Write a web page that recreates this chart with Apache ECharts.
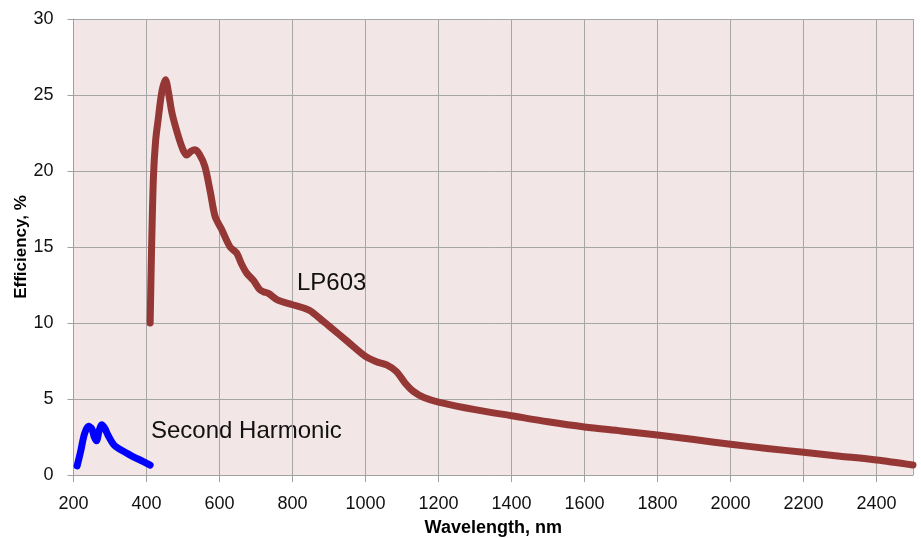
<!DOCTYPE html>
<html>
<head>
<meta charset="utf-8">
<script src="https://cdn.jsdelivr.net/npm/echarts@6/dist/echarts.min.js"></script>
<style>html,body{margin:0;padding:0;background:#fff}#c{width:921px;height:538px}</style>
</head>
<body>
<div id="c"></div>
<script>
const xTicks = [200,400,600,800,1000,1200,1400,1600,1800,2000,2200,2400];
const yTicks = [0,5,10,15,20,25,30];

const lp603 = [
  [410,10.0],[414,15.0],[419,19.6],[425,22.0],[432,23.4],[442,25.2],[452,26.0],
  [460,25.2],[470,23.8],[487,22.3],[500,21.4],[510,21.05],[522,21.3],[533,21.4],
  [545,21.1],[560,20.3],[575,18.6],[588,17.0],[605,16.2],[629,15.0],[647,14.6],
  [660,13.9],[674,13.3],[693,12.8],[710,12.2],[720,12.06],[734,11.95],[760,11.5],
  [800,11.2],[845,10.85],[870,10.4],[900,9.8],[950,8.8],[1000,7.8],[1030,7.45],
  [1058,7.24],[1085,6.8],[1110,6.0],[1131,5.5],[1160,5.1],[1200,4.8],[1300,4.3],
  [1400,3.9],[1500,3.5],[1600,3.16],[1700,2.9],[1800,2.63],[1900,2.33],[2000,2.02],
  [2100,1.75],[2200,1.49],[2300,1.24],[2400,0.99],[2500,0.66]
];
const secondHarmonic = [
  [210,0.6],[220,1.6],[230,2.7],[241,3.2],[250,3.05],[257,2.5],[263,2.25],[270,2.9],
  [277,3.3],[285,3.1],[295,2.6],[310,2.0],[323,1.75],[345,1.45],[364,1.2],[390,0.9],[410,0.65]
];

const chart = echarts.init(document.getElementById('c'));
const font = 'Liberation Sans, Arial, sans-serif';
chart.setOption({
  animation: false,
  grid: { left: 73.5, right: 8, top: 19, bottom: 63, show: true, backgroundColor: '#f2e6e6', borderWidth: 0,
    containLabel: false, outerBoundsMode: 'none' },
  xAxis: {
    type: 'value', min: xTicks[0], max: 2500, interval: 200,
    name: 'Wavelength, nm', nameLocation: 'middle', nameGap: 44,
    nameTextStyle: { fontFamily: font, fontWeight: 'bold', fontSize: 18, color: '#000' },
    axisLine: { show: true, lineStyle: { color: '#a0a0a0', width: 1 } },
    axisTick: { show: true, length: 7, lineStyle: { color: '#a0a0a0' } },
    axisLabel: { fontFamily: font, fontSize: 18, color: '#111', margin: 20, showMaxLabel: false,
      formatter: v => String(v) },
    splitLine: { show: true, lineStyle: { color: '#a6a6a6', width: 1 } }
  },
  yAxis: {
    type: 'value', min: yTicks[0], max: yTicks[yTicks.length-1], interval: 5,
    name: 'Efficiency, %', nameLocation: 'middle', nameGap: 44, nameMoveOverlap: false,
    nameTextStyle: { fontFamily: font, fontWeight: 'bold', fontSize: 17, color: '#000' },
    axisLine: { show: true, lineStyle: { color: '#a0a0a0', width: 1 } },
    axisTick: { show: true, length: 6, lineStyle: { color: '#a0a0a0' } },
    axisLabel: { fontFamily: font, fontSize: 18, color: '#111', margin: 20, formatter: v => String(v) },
    splitLine: { show: true, lineStyle: { color: '#a6a6a6', width: 1 } }
  },
  series: [
    { name: 'LP603', type: 'line', data: lp603, smooth: 0.3, symbol: 'none',
      lineStyle: { color: '#953735', width: 7, cap: 'round', join: 'round' } },
    { name: 'Second Harmonic', type: 'line', data: secondHarmonic, smooth: 0.3, symbol: 'none',
      lineStyle: { color: '#0000ff', width: 7, cap: 'round', join: 'round' } }
  ],
  graphic: [
    { type: 'text', left: 297, top: 271, style: { text: 'LP603', font: '24px ' + font, fill: '#111' } },
    { type: 'text', left: 151, top: 419, style: { text: 'Second Harmonic', font: '24px ' + font, fill: '#111' } }
  ]
});
</script>
</body>
</html>
